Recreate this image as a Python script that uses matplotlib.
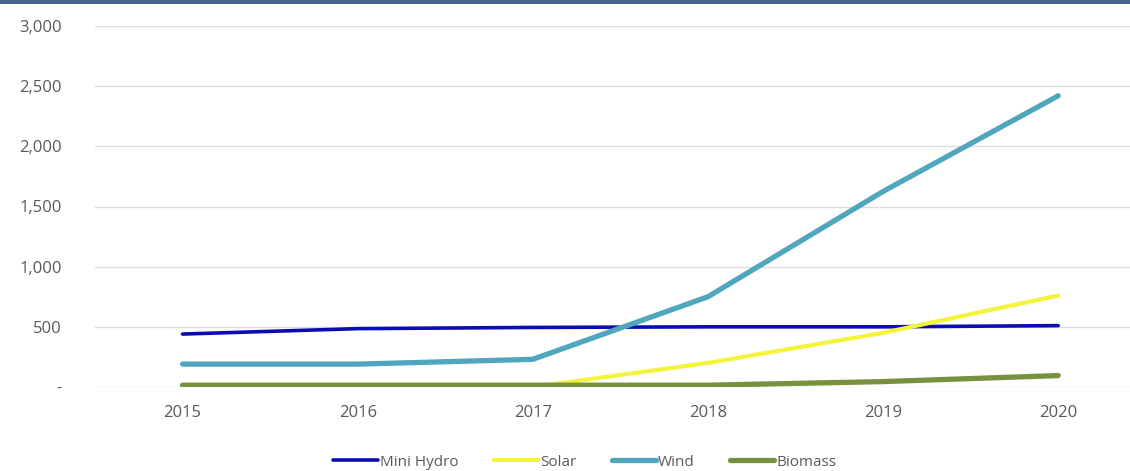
import matplotlib.pyplot as plt
from matplotlib.ticker import FuncFormatter

# Installed capacity by technology
years = ['2015', '2016', '2017', '2018', '2019', '2020']
mini_hydro = [440, 485, 495, 500, 500, 510]
solar = [0, 0, 0, 200, 450, 760]
wind = [190, 190, 230, 750, 1625, 2420]
biomass = [15, 15, 15, 15, 45, 95]

series = [
    ('Mini Hydro', mini_hydro, '#0c0cb4', 2.6),
    ('Solar', solar, '#f4f43a', 3.0),
    ('Wind', wind, '#4fa6bd', 3.8),
    ('Biomass', biomass, '#77913f', 3.8),
]

plt.rcParams['font.family'] = ['Open Sans', 'DejaVu Sans']

fig = plt.figure(figsize=(11.3, 4.71), dpi=100)
ax = fig.add_axes([95 / 1130, 1 - 387 / 471, 1 - 95 / 1130, (387 - 26) / 471])

x = range(len(years))
for name, vals, color, lw in series:
    ax.plot(x, vals, color=color, lw=lw, label=name, solid_capstyle='round')

ax.set_ylim(0, 3000)
ax.set_xlim(-0.5, 5.41)
ax.set_yticks(range(0, 3001, 500))
ax.yaxis.set_major_formatter(FuncFormatter(lambda v, p: '-' if v == 0 else f'{int(v):,}'))
ax.set_xticks(list(x))
ax.set_xticklabels(years)

ax.grid(axis='y', color='#dedede', lw=1.0)
ax.set_axisbelow(True)
for s in ax.spines.values():
    s.set_visible(False)
ax.tick_params(length=0, labelsize=12, colors='#595959')
ax.tick_params(axis='y', pad=24)
ax.tick_params(axis='x', pad=13)

leg = fig.legend(loc='center', bbox_to_anchor=(585 / 1130, 1 - 462 / 471), ncol=4,
                 frameon=False, fontsize=11, handlelength=2.9, handletextpad=0.15,
                 columnspacing=2.3, labelcolor='#595959')

# dark band across the top edge
fig.add_artist(plt.Rectangle((0, 1 - 4 / 471), 1, 4 / 471, transform=fig.transFigure,
                             color='#4a658c', lw=0))

fig.savefig('out.png', dpi=100)
